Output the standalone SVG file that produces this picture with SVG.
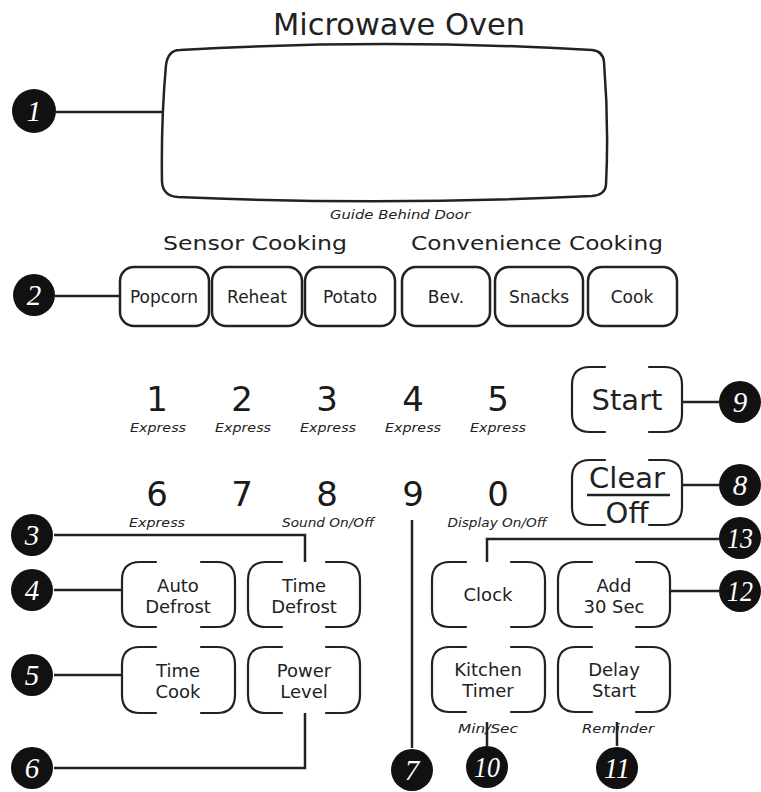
<svg xmlns="http://www.w3.org/2000/svg" width="761" height="792" viewBox="0 0 761 792">
<style>
  text{font-family:"DejaVu Sans","Noto Sans",sans-serif;fill:#222;text-anchor:middle}
  .title{font-size:31px}
  .head{font-size:20px}
  .btn{font-size:17px}
  .key{font-size:18px}
  .big{font-size:29px}
  .dig{font-size:34px;fill:#1a1a1a}
  .it{font-size:13px;font-style:italic}
  .box{fill:none;stroke:#222;stroke-width:2.5}
  .brk{fill:none;stroke:#222;stroke-width:2.2;stroke-linecap:round}
  .ln{fill:none;stroke:#222;stroke-width:2.5}
  .dot{fill:#111}
  .num{font-family:"Liberation Serif","DejaVu Serif",serif;font-style:italic;font-size:29px;fill:#fff}
</style>
<rect width="761" height="792" fill="#fff"/>

<g id="connectors">
  <path class="ln" d="M56 112H163"/>
  <path class="ln" d="M55 296H120"/>
  <path class="ln" d="M54 535H305V562"/>
  <path class="ln" d="M54 590H122"/>
  <path class="ln" d="M54 675H122"/>
  <path class="ln" d="M54 768H305V713"/>
  <path class="ln" d="M412 520V748"/>
  <path class="ln" d="M682 485H719"/>
  <path class="ln" d="M682 402H719"/>
  <path class="ln" d="M487 722V746"/>
  <path class="ln" d="M617 722V746"/>
  <path class="ln" d="M670 591H719"/>
  <path class="ln" d="M487 562V539H719"/>
</g>

<g id="display">
  <text class="title" x="399" y="35" textLength="252" lengthAdjust="spacingAndGlyphs">Microwave Oven</text>
  <path class="box" d="M180 50Q385 38 592 50Q603 51 604 62Q609 125 606 185Q605 195 592 196Q385 206 178 197Q163 196 162 182Q161 120 166 65Q168 50 180 50Z"/>
  <text class="it" x="400" y="219" textLength="140" lengthAdjust="spacingAndGlyphs">Guide Behind Door</text>
</g>

<g id="headings">
  <text class="head" x="255" y="250" textLength="184" lengthAdjust="spacingAndGlyphs">Sensor Cooking</text>
  <text class="head" x="537" y="250" textLength="252" lengthAdjust="spacingAndGlyphs">Convenience Cooking</text>
</g>

<g id="btn-popcorn"><rect class="box" x="120" y="267" width="89" height="59" rx="14"/><text class="btn" x="164" y="303">Popcorn</text></g>
<g id="btn-reheat"><rect class="box" x="212" y="267" width="90" height="59" rx="14"/><text class="btn" x="257" y="303">Reheat</text></g>
<g id="btn-potato"><rect class="box" x="305" y="267" width="90" height="59" rx="14"/><text class="btn" x="350" y="303">Potato</text></g>
<g id="btn-bev"><rect class="box" x="402" y="267" width="88" height="59" rx="14"/><text class="btn" x="446" y="303">Bev.</text></g>
<g id="btn-snacks"><rect class="box" x="495" y="267" width="88" height="59" rx="14"/><text class="btn" x="539" y="303">Snacks</text></g>
<g id="btn-cook"><rect class="box" x="588" y="267" width="89" height="59" rx="14"/><text class="btn" x="632" y="303">Cook</text></g>

<g id="keypad">
  <text class="dig" x="157" y="411">1</text><text class="it" x="158" y="432" textLength="56" lengthAdjust="spacingAndGlyphs">Express</text>
  <text class="dig" x="242" y="411">2</text><text class="it" x="243" y="432" textLength="56" lengthAdjust="spacingAndGlyphs">Express</text>
  <text class="dig" x="327" y="411">3</text><text class="it" x="328" y="432" textLength="56" lengthAdjust="spacingAndGlyphs">Express</text>
  <text class="dig" x="413" y="411">4</text><text class="it" x="413" y="432" textLength="56" lengthAdjust="spacingAndGlyphs">Express</text>
  <text class="dig" x="498" y="411">5</text><text class="it" x="498" y="432" textLength="56" lengthAdjust="spacingAndGlyphs">Express</text>
  <text class="dig" x="157" y="506">6</text><text class="it" x="157" y="527" textLength="56" lengthAdjust="spacingAndGlyphs">Express</text>
  <text class="dig" x="242" y="506">7</text>
  <text class="dig" x="327" y="506">8</text><text class="it" x="328" y="527" textLength="92" lengthAdjust="spacingAndGlyphs">Sound On/Off</text>
  <text class="dig" x="413" y="506">9</text>
  <text class="dig" x="498" y="506">0</text><text class="it" x="497" y="527" textLength="99" lengthAdjust="spacingAndGlyphs">Display On/Off</text>
</g>

<g id="btn-start"><path class="brk" d="M605 367H590Q572 367 572 385V414Q572 432 590 432H605M649 367H664Q682 367 682 385V414Q682 432 664 432H649"/><text class="big" x="627" y="410">Start</text></g>
<g id="btn-clear"><path class="brk" d="M605 460H590Q572 460 572 478V507Q572 525 590 525H605M649 460H664Q682 460 682 478V507Q682 525 664 525H649"/><text class="big" x="627" y="488">Clear</text><path class="ln" d="M587 495H670"/><text class="big" x="627" y="523">Off</text></g>

<g id="btn-auto-defrost"><path class="brk" d="M156 562H140Q122 562 122 580V609Q122 627 140 627H156M201 562H217Q235 562 235 580V609Q235 627 217 627H201"/><text class="key" x="178" y="592">Auto</text><text class="key" x="178" y="613">Defrost</text></g>
<g id="btn-time-defrost"><path class="brk" d="M282 562H266Q248 562 248 580V609Q248 627 266 627H282M326 562H342Q360 562 360 580V609Q360 627 342 627H326"/><text class="key" x="304" y="592">Time</text><text class="key" x="304" y="613">Defrost</text></g>
<g id="btn-time-cook"><path class="brk" d="M156 647H140Q122 647 122 665V695Q122 713 140 713H156M201 647H217Q235 647 235 665V695Q235 713 217 713H201"/><text class="key" x="178" y="677">Time</text><text class="key" x="178" y="698">Cook</text></g>
<g id="btn-power-level"><path class="brk" d="M282 647H266Q248 647 248 665V695Q248 713 266 713H282M326 647H342Q360 647 360 665V695Q360 713 342 713H326"/><text class="key" x="304" y="677">Power</text><text class="key" x="304" y="698">Level</text></g>

<g id="btn-clock"><path class="brk" d="M466 562H450Q432 562 432 580V609Q432 627 450 627H466M511 562H527Q545 562 545 580V609Q545 627 527 627H511"/><text class="key" x="488" y="601">Clock</text></g>
<g id="btn-add30"><path class="brk" d="M592 562H576Q558 562 558 580V609Q558 627 576 627H592M636 562H652Q670 562 670 580V609Q670 627 652 627H636"/><text class="key" x="614" y="592">Add</text><text class="key" x="614" y="613">30 Sec</text></g>
<g id="btn-kitchen-timer"><path class="brk" d="M466 647H450Q432 647 432 665V694Q432 712 450 712H466M511 647H527Q545 647 545 665V694Q545 712 527 712H511"/><text class="key" x="488" y="676">Kitchen</text><text class="key" x="488" y="697">Timer</text></g>
<g id="btn-delay-start"><path class="brk" d="M592 647H576Q558 647 558 665V694Q558 712 576 712H592M636 647H652Q670 647 670 665V694Q670 712 652 712H636"/><text class="key" x="614" y="676">Delay</text><text class="key" x="614" y="697">Start</text></g>

<g id="sublabels">
  <text class="it" x="488" y="733" textLength="60" lengthAdjust="spacingAndGlyphs">Min/Sec</text>
  <text class="it" x="618" y="733" textLength="72" lengthAdjust="spacingAndGlyphs">Reminder</text>
</g>

<g id="c1"><circle class="dot" cx="34" cy="111" r="22"/><text class="num" x="34" y="121">1</text></g>
<g id="c2"><circle class="dot" cx="34" cy="295" r="21"/><text class="num" x="34" y="305">2</text></g>
<g id="c3"><circle class="dot" cx="32" cy="535" r="21"/><text class="num" x="32" y="545">3</text></g>
<g id="c4"><circle class="dot" cx="32" cy="590" r="21"/><text class="num" x="32" y="600">4</text></g>
<g id="c5"><circle class="dot" cx="32" cy="675" r="21"/><text class="num" x="32" y="685">5</text></g>
<g id="c6"><circle class="dot" cx="32" cy="768" r="21"/><text class="num" x="32" y="778">6</text></g>
<g id="c7"><circle class="dot" cx="412" cy="770" r="21"/><text class="num" x="412" y="780">7</text></g>
<g id="c8"><circle class="dot" cx="740" cy="485" r="21"/><text class="num" x="740" y="495">8</text></g>
<g id="c9"><circle class="dot" cx="740" cy="402" r="21"/><text class="num" x="740" y="412">9</text></g>
<g id="c10"><circle class="dot" cx="487" cy="767" r="21"/><text class="num" x="487" y="777" textLength="26" lengthAdjust="spacingAndGlyphs">10</text></g>
<g id="c11"><circle class="dot" cx="617" cy="768" r="21"/><text class="num" x="617" y="778" textLength="26" lengthAdjust="spacingAndGlyphs">11</text></g>
<g id="c12"><circle class="dot" cx="740" cy="591" r="21"/><text class="num" x="740" y="601" textLength="26" lengthAdjust="spacingAndGlyphs">12</text></g>
<g id="c13"><circle class="dot" cx="740" cy="538" r="21"/><text class="num" x="740" y="548" textLength="26" lengthAdjust="spacingAndGlyphs">13</text></g>
</svg>
